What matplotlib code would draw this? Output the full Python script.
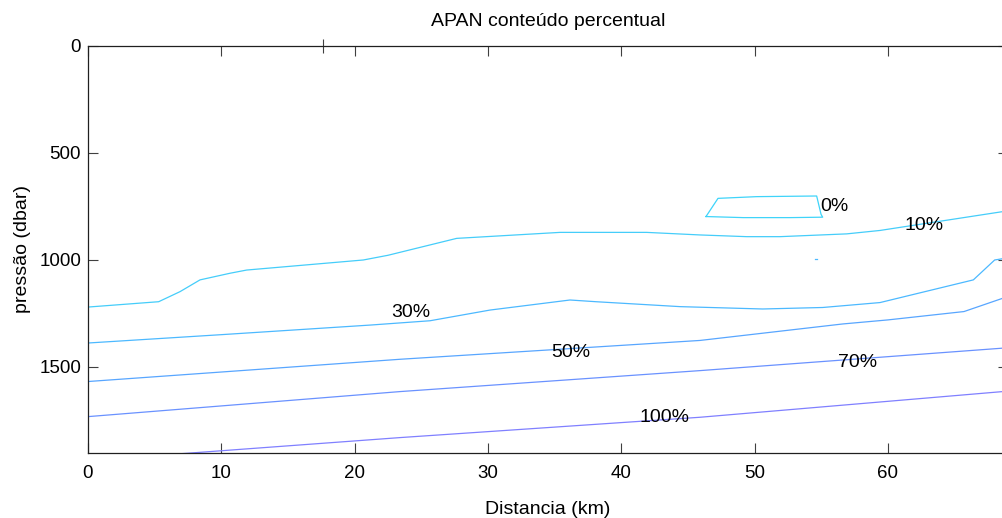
import matplotlib
matplotlib.use('Agg')
import matplotlib.pyplot as plt

plt.rcParams['font.family'] = ['Liberation Sans', 'DejaVu Sans']

# ---- data: contour polylines (Distancia km, pressão dbar) ----
levels = ['0%', '10%', '30%', '50%', '70%', '100%']

c0_x = [46.35, 47.25, 50.15, 54.65, 54.98, 55.1, 52.65, 49.15, 46.35]
c0_y = [797, 712, 704, 701, 787, 800, 802, 802, 797]

c10_x = [0, 5.3, 6.9, 8.4, 10.65, 11.9, 20.65, 22.5, 27.65, 35.4, 41.9, 45.9,
         49.4, 51.9, 56.9, 59.4, 68.6, 69]
c10_y = [1220, 1195, 1148, 1093, 1062, 1047, 1000, 978, 899, 871, 871, 883,
         891, 891, 878, 862, 774, 771]

c30_x = [0, 10, 21.2, 25.65, 30.15, 36.15, 38.1, 44.4, 50.6, 55.1, 59.4, 66.4,
         68.0, 69]
c30_y = [1388, 1349, 1304, 1284, 1234, 1187, 1195, 1218, 1229, 1222, 1199, 1093,
         1000, 990]

c50_x = [0, 23.4, 45.9, 56.6, 60.0, 65.7, 68.6, 69]
c50_y = [1568, 1464, 1376, 1299, 1280, 1241, 1179, 1172]

c70_x = [0, 23.4, 45.9, 68.6, 69]
c70_y = [1732, 1615, 1517, 1412, 1410]

c100_x = [0, 8.15, 23.4, 45.9, 68.6, 69]
c100_y = [1937, 1900, 1830, 1735, 1615, 1613]

dot_x = [54.5, 54.7]
dot_y = [995, 995]

# label positions (centre of text)
lab_text = ['0%', '10%', '30%', '50%', '70%', '100%']
lab_x = [56.0, 62.7, 24.2, 36.2, 57.7, 43.2]
lab_y = [748, 840, 1247, 1432, 1480, 1736]

colors = {'0%': '#3fd4fa', '10%': '#45cdfa', '30%': '#4cb9ff',
          '50%': '#58a6ff', '70%': '#6a92ff', '100%': '#8080ff'}

lines = [('0%', c0_x, c0_y), ('10%', c10_x, c10_y), ('30%', c30_x, c30_y),
         ('50%', c50_x, c50_y), ('70%', c70_x, c70_y), ('100%', c100_x, c100_y)]

fig = plt.figure(figsize=(10.03, 5.18), dpi=100)
ax = fig.add_axes([88 / 1003, 65 / 518, 920 / 1003, 407 / 518])

for lev, xs, ys in lines:
    ax.plot(xs, ys, color=colors[lev], lw=0.9)
ax.plot(dot_x, dot_y, color=colors['30%'], lw=0.9)

for t, x, y in zip(lab_text, lab_x, lab_y):
    ax.text(x, y, t, ha='center', va='center', fontsize=14, color='black')

ax.set_xlim(0, 69)
ax.set_ylim(1902, 0)
ax.set_xticks([0, 10, 20, 30, 40, 50, 60])
ax.set_yticks([0, 500, 1000, 1500])
ax.tick_params(direction='in', length=7, width=0.8, top=True, right=True,
               labelsize=13.5, color='#404040')
ax.tick_params(axis='x', pad=9)
ax.tick_params(axis='y', pad=5)
for s in ax.spines.values():
    s.set_linewidth(0.9)
    s.set_color('#202020')

# stray tick on top axis
sec = ax.secondary_xaxis('top')
sec.set_xticks([17.6])
sec.set_xticklabels([''])
sec.tick_params(direction='inout', length=10, width=0.8, color='#404040')
sec.spines['top'].set_visible(False)

fig.text(548 / 1003, 1 - 22 / 518, 'APAN conteúdo percentual', ha='center',
         va='center', fontsize=14)
fig.text(548 / 1003, 1 - 509 / 518, 'Distancia (km)', ha='center', va='center',
         fontsize=14)
fig.text(23 / 1003, 1 - 249 / 518, 'pressão (dbar)', ha='center', va='center',
         rotation=90, fontsize=14)

fig.savefig('out.png', dpi=100)
